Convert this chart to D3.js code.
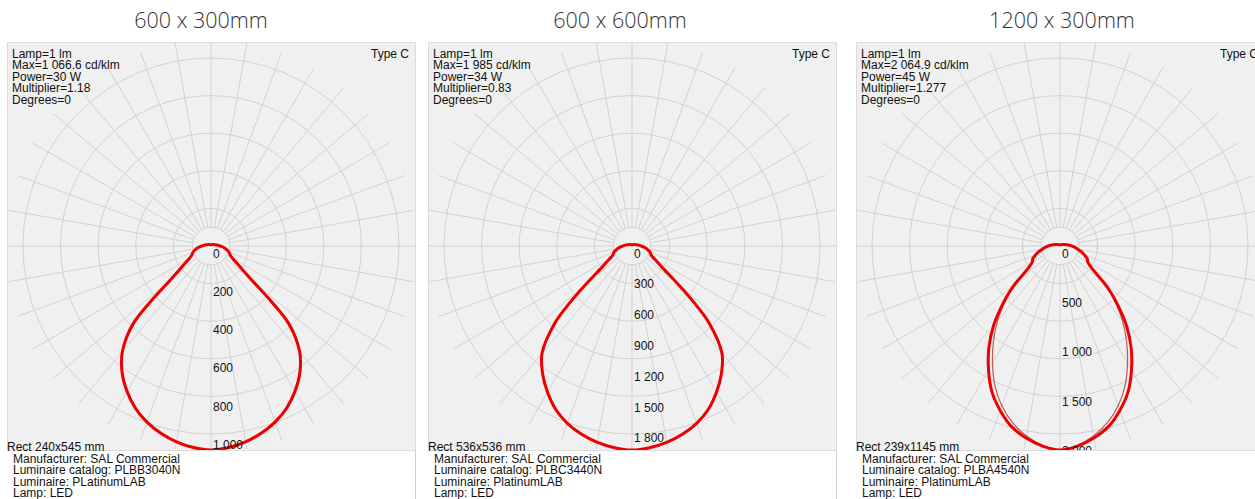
<!DOCTYPE html>
<html><head><meta charset="utf-8">
<script src="https://cdn.jsdelivr.net/npm/d3@7"></script>
<style>body{margin:0;background:#fff;}svg{display:block;}</style>
</head><body>
<script>
// ---------- data ----------
const titles = ["600 x 300mm", "600 x 600mm", "1200 x 300mm"];
const gammas = [0,5,10,15,20,25,30,35,40,45,47.5,50,55,60,65,70,75,80,85,90,100,120,150,180];
// panel 1 (cd/klm)
const c0_p1  = [1066.6,1058,1040,1014,980,936,878,810,721,575,418,277,178,131,110,102,89,76,63,47,31,16,8,5];
const c90_p1 = [1066.6,1056,1037,1010,975,930,872,806,722,596,460,314,193,135,110,102,89,76,63,47,31,16,8,5];
// panel 2
const c0_p2  = [1985,1970,1941,1897,1838,1756,1644,1517,1362,1060,827,603,350,253,204,190,165,141,117,88,58,29,15,10];
const c90_p2 = [1985,1967,1936,1890,1830,1748,1636,1511,1365,1090,870,640,370,260,204,190,165,141,117,88,58,29,15,10];
// panel 3
const c0_p3  = [2064.9,2034,1974,1893,1771,1630,1447,1255,1043,810,700,587,395,324,304,263,223,182,152,121,71,30,15,10];
const c90_p3 = [2064.9,2024,1953,1852,1721,1559,1366,1174,982,779,680,577,395,318,300,263,223,182,152,121,71,30,15,10];
const c0Series  = [c0_p1, c0_p2, c0_p3];
const c90Series = [c90_p1, c90_p2, c90_p3];
const maxValues = [1066.6, 1985, 2064.9];
const ticks1 = [0,200,400,600,800,1000];
const ticks2 = [0,300,600,900,1200,1500,1800];
const ticks3 = [0,500,1000,1500,2000];
const tickSets = [ticks1, ticks2, ticks3];
const powers = [30, 34, 45];
const multipliers = ["1.18", "0.83", "1.277"];
const rects = ["240x545", "536x536", "239x1145"];
const catalogs = ["PLBB3040N", "PLBC3440N", "PLBA4540N"];
const luminaires = ["PLatinumLAB", "PlatinumLAB", "PlatinumLAB"];
const gridFractions = [0.1, 0.2, 0.4, 0.6, 0.8, 1.0];
const gridAngles = d3.range(0, 360, 10);

// ---------- layout ----------
const W = 1255, H = 499;
const panelX = [7, 428, 856];
const titleX = [201, 620, 1062];
const plotTop = 42, plotSize = 408, half = 204, gridR = 188;

const loc = d3.formatLocale({decimal: ".", thousands: "\u00a0", grouping: [3], currency: ["", ""]});
const fmtInt = loc.format(",");
const fmtMax = v => (Number.isInteger(v) ? loc.format(",")(v) : loc.format(",.1f")(v));

const svg = d3.select("body").append("svg").attr("width", W).attr("height", H);

panelX.forEach((px, i) => {
  const g = svg.append("g");
  const cx = px + plotSize / 2, cy = plotTop + half;
  // title
  svg.append("text").attr("x", titleX[i]).attr("y", 28).attr("text-anchor", "middle")
    .attr("font-family", "'Open Sans'").attr("font-weight", 300).attr("font-size", 21.5)
    .attr("fill", "#333").text(titles[i]);
  // right border of the image
  g.append("line").attr("x1", px + plotSize + 0.5).attr("x2", px + plotSize + 0.5)
    .attr("y1", plotTop).attr("y2", H).attr("stroke", "#cfcfcf");
  // plot bg
  g.append("rect").attr("x", px + 0.5).attr("y", plotTop + 0.5).attr("width", plotSize).attr("height", plotSize)
    .attr("fill", "#f0f0f0").attr("stroke", "#dcdcdc");
  const clipId = "clip" + i;
  svg.append("clipPath").attr("id", clipId).append("rect")
    .attr("x", px).attr("y", plotTop).attr("width", plotSize + 1).attr("height", plotSize);
  const gc = g.append("g").attr("clip-path", `url(#${clipId})`);
  const gg = gc.append("g").attr("transform", `translate(${cx},${cy})`);
  // grid circles
  gg.selectAll("circle.grid").data(gridFractions).join("circle")
    .attr("r", d => d * gridR).attr("fill", "none").attr("stroke", "#d2d2d2").attr("stroke-width", 1);
  // radial lines
  gg.selectAll("line.rad").data(gridAngles).join("line")
    .attr("x1", d => gridFractions[0] * gridR * Math.sin(d * Math.PI / 180))
    .attr("y1", d => gridFractions[0] * gridR * Math.cos(d * Math.PI / 180))
    .attr("x2", d => (half + 2) * Math.sin(d * Math.PI / 180))
    .attr("y2", d => (half + 2) * Math.cos(d * Math.PI / 180))
    .attr("stroke", "#d2d2d2").attr("stroke-width", 1);

  const r = d3.scaleLinear().domain([0, maxValues[i]]).range([0, half]);
  // curves
  const buildPts = vals => {
    const pts = [];
    gammas.forEach((gm, k) => pts.push([Math.PI - gm * Math.PI / 180, r(vals[k])]));
    for (let k = gammas.length - 2; k >= 1; k--) pts.push([Math.PI + gammas[k] * Math.PI / 180, r(vals[k])]);
    return pts;
  };
  const line = d3.lineRadial().angle(d => d[0]).radius(d => d[1]).curve(d3.curveCatmullRomClosed.alpha(0.5));
  gg.append("path").attr("d", line(buildPts(c90Series[i]))).attr("fill", "none")
    .attr("stroke", "#b04040").attr("stroke-width", 1.2).attr("opacity", 0.85);
  gg.append("path").attr("d", line(buildPts(c0Series[i]))).attr("fill", "none")
    .attr("stroke", "#ee0000").attr("stroke-width", 3);
  // value labels
  gg.selectAll("text.tick").data(tickSets[i]).join("text")
    .attr("x", 2).attr("y", d => r(d) + 11.5)
    .attr("font-family", "'Liberation Sans', Arial").attr("font-size", 12).attr("fill", "#111")
    .text(d => fmtInt(d));

  // info texts
  const info = ["Lamp=1 lm", "Max=" + fmtMax(maxValues[i]) + " cd/klm", "Power=" + powers[i] + " W",
    "Multiplier=" + multipliers[i], "Degrees=0"];
  g.selectAll("text.info").data(info).join("text")
    .attr("x", px + 5).attr("y", (d, k) => 57.5 + k * 11.5)
    .attr("font-family", "'Liberation Sans', Arial").attr("font-size", 12).attr("fill", "#111").text(d => d);
  g.append("text").attr("x", px + 402).attr("y", 57.5).attr("text-anchor", "end")
    .attr("font-family", "'Liberation Sans', Arial").attr("font-size", 12).attr("fill", "#111").text("Type C");
  const foot = ["Manufacturer: SAL Commercial", "Luminaire catalog: " + catalogs[i],
    "Luminaire: " + luminaires[i], "Lamp: LED"];
  g.append("text").attr("x", px).attr("y", 451)
    .attr("font-family", "'Liberation Sans', Arial").attr("font-size", 12).attr("fill", "#111")
    .text("Rect " + rects[i] + " mm");
  g.selectAll("text.foot").data(foot).join("text")
    .attr("x", px + 6).attr("y", (d, k) => 462.5 + k * 11.5)
    .attr("font-family", "'Liberation Sans', Arial").attr("font-size", 12).attr("fill", "#111").text(d => d);
});
</script>
</body></html>
